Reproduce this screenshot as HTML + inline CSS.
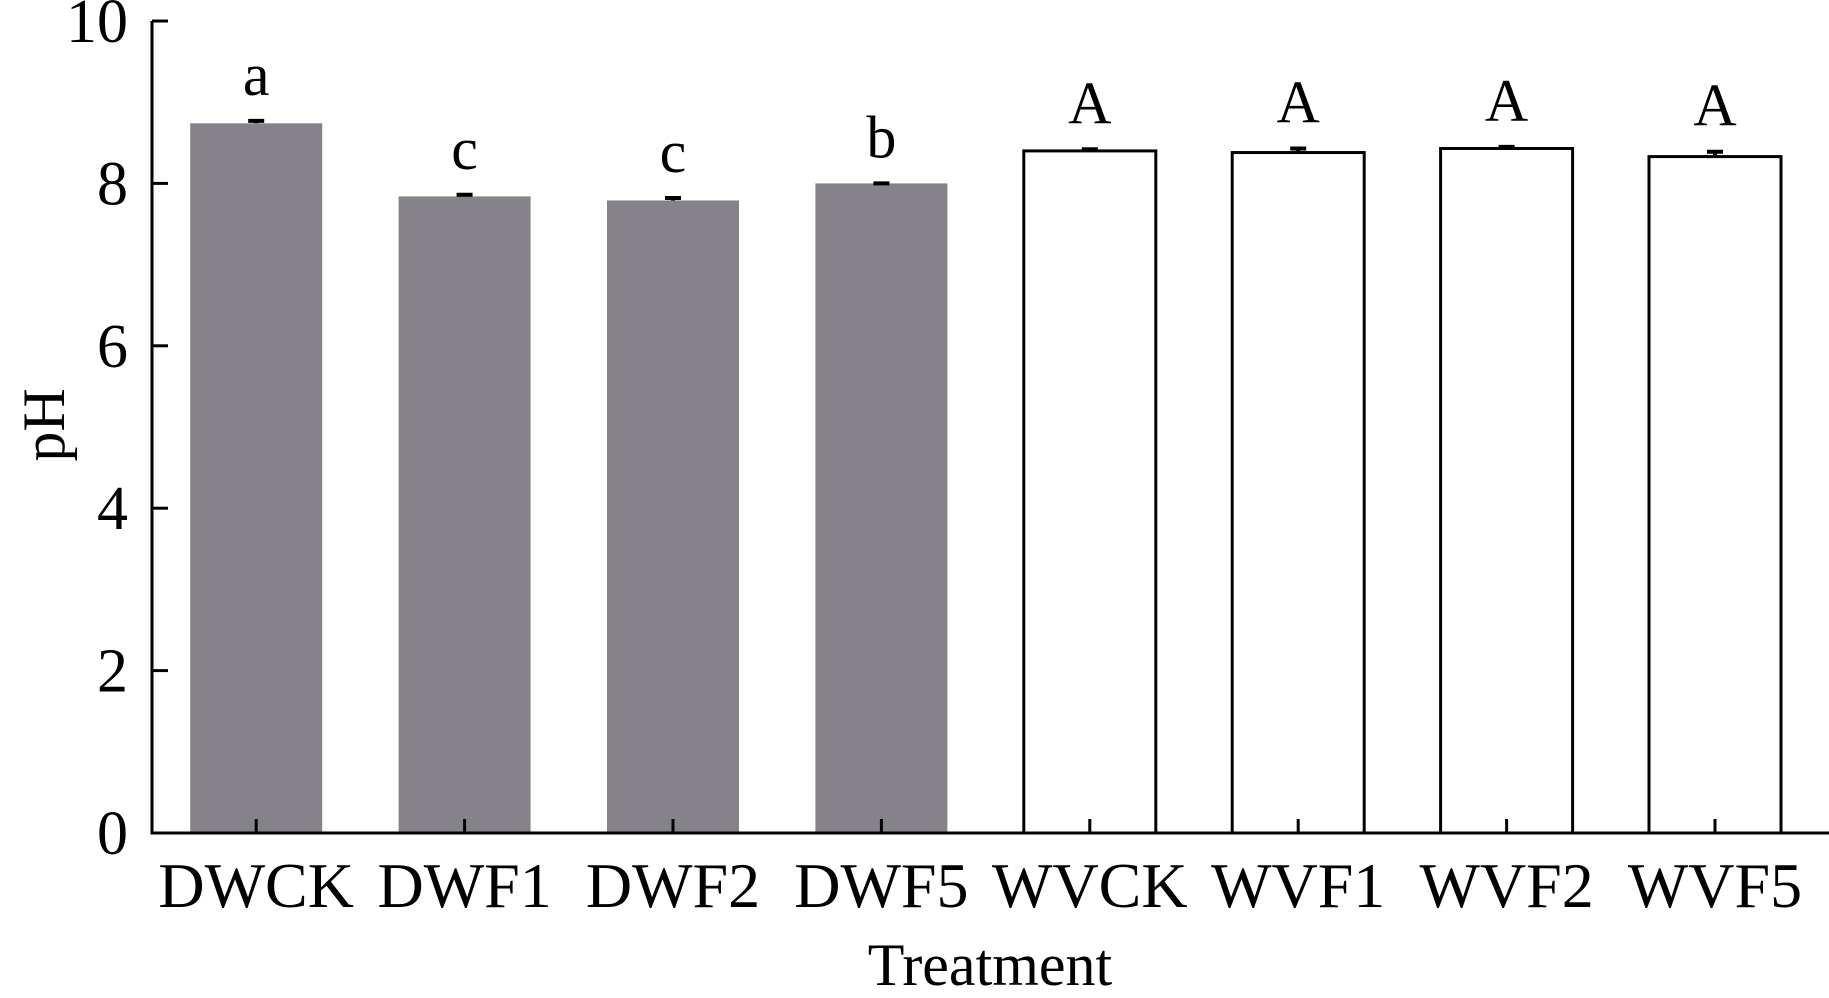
<!DOCTYPE html>
<html><head><meta charset="utf-8"><style>
html,body{margin:0;padding:0;background:#fff}
svg text{font-family:"Liberation Serif",serif;fill:#000}
</style></head><body>
<svg id="chart" width="1829" height="993" viewBox="0 0 1829 993" xmlns="http://www.w3.org/2000/svg"></svg>
<script>
const categories=["DWCK","DWF1","DWF2","DWF5","WVCK","WVF1","WVF2","WVF5"];
const values=[8.74,7.84,7.79,8.0,8.40,8.38,8.43,8.33];
const errors=[0.03,0.02,0.03,0.0,0.02,0.05,0.02,0.06];
const letters=["a","c","c","b","A","A","A","A"];
const yTicks=[0,2,4,6,8,10];
const NS="http://www.w3.org/2000/svg";
const svg=document.getElementById('chart');
const X0=152,X1=1829,Y0=833,Y1=21,band=208.4,barW=132;
function y(v){return Y0-(v/10)*(Y0-Y1);}
function xc(i){return X0+band*(i+0.5);}
function mk(t,a,txt){const e=document.createElementNS(NS,t);for(const k in a)e.setAttribute(k,a[k]);if(txt!==undefined)e.textContent=txt;svg.appendChild(e);return e;}
categories.forEach((c,i)=>{
 const dry=i<4;
 const b=mk('rect',{x:xc(i)-barW/2,y:y(values[i]),width:barW,height:Y0-y(values[i]),fill:dry?'#858389':'#fff',stroke:dry?'none':'#000','stroke-width':3});
 
 
 const e=mk('path',{d:`M${xc(i)} ${y(values[i]+errors[i])}V${y(values[i])}M${xc(i)-8} ${y(values[i]+errors[i])}H${xc(i)+8}`,stroke:'#000','stroke-width':4,fill:'none'});
 
 
 const l=mk('text',{x:xc(i),y:y(values[i]+errors[i])-26,'text-anchor':'middle','font-size':60},letters[i]);
 
 
 const t=mk('path',{d:`M${xc(i)} ${Y0}v-14`,stroke:'#000','stroke-width':3});
 
 
 const tl=mk('text',{x:xc(i),y:Y0+74,'text-anchor':'middle','font-size':64},c);
 
 
});
yTicks.forEach(v=>{
 const t=mk('path',{d:`M${X0} ${y(v)}h16`,stroke:'#000','stroke-width':3});
 
 
 const tl=mk('text',{x:X0-24,y:y(v)+21,'text-anchor':'end','font-size':62},String(v));
 
 
});
const ax=mk('path',{d:`M${X0} ${Y1}V${Y0}H${X1}`,stroke:'#000','stroke-width':3,fill:'none'});


const xt=mk('text',{x:990,y:985,'text-anchor':'middle','font-size':60},'Treatment');


const yt=mk('text',{x:0,y:0,'text-anchor':'middle','font-size':60,transform:'translate(64,425) rotate(-90)'},'pH');


</script>
</body></html>
